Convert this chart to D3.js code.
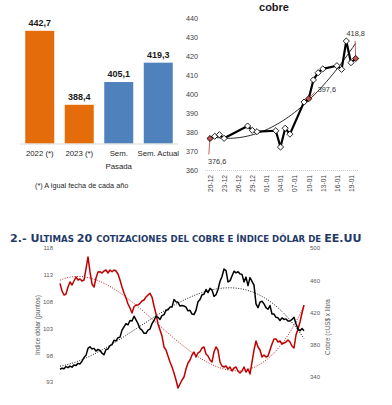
<!DOCTYPE html>
<html>
<head>
<meta charset="utf-8">
<script src="https://cdn.jsdelivr.net/npm/d3@7"></script>
<style>
  body { margin: 0; background: #fff; }
  svg { display: block; font-family: "Liberation Sans", Arial, sans-serif; }
</style>
</head>
<body>
<svg id="chart" width="392" height="405"></svg>
<script>
// bar chart: promedios
const barCats = ['2022 (*)', '2023 (*)', 'Sem.|Pasada', 'Sem. Actual'];
const barValues = [442.7, 388.4, 405.1, 419.3];
const barColors = ['#E46C0A', '#E46C0A', '#4F81BD', '#4F81BD'];
const barNote = '(*) A igual fecha de cada año';

// daily copper, last quotes
const dayDates = ['2022-12-20', '2022-12-21', '2022-12-22', '2022-12-23', '2022-12-28', '2022-12-29', '2022-12-30',
  '2023-01-03', '2023-01-04', '2023-01-05', '2023-01-06', '2023-01-09', '2023-01-10', '2023-01-11',
  '2023-01-12', '2023-01-13', '2023-01-16', '2023-01-17', '2023-01-18', '2023-01-19', '2023-01-20'];
const dayValues = [376.6, 377.8, 378.6, 376.7, 383.2, 380.9, 380.2, 380.7, 372.1, 382.0, 378.9,
  395.8, 397.6, 407.5, 411.3, 413.3, 415.0, 413.1, 428.0, 416.6, 418.8];
const dayLabels = ['376,6', '397,6', '418,8'];
const dayLabelIdx = [0, 12, 20];
const dayTicks = ['2022-12-20', '2022-12-23', '2022-12-26', '2022-12-29', '2023-01-01', '2023-01-04',
  '2023-01-07', '2023-01-10', '2023-01-13', '2023-01-16', '2023-01-19'];
const dayYTicks = [360, 370, 380, 390, 400, 410, 420, 430, 440];

// long series
const dollarIndex = [
  95.0, 95.2, 95.1, 95.5, 95.3, 95.6, 95.4, 95.8, 95.7, 96.1,
  96.0, 96.5, 97.2, 97.6, 98.9, 99.2, 98.8, 98.9, 98.4, 98.7,
  98.5, 98.0, 97.7, 98.7, 98.8, 99.4, 99.6, 100.4, 100.3, 100.9,
  101.0, 102.3, 102.9, 103.5, 103.3, 104.1, 104.0, 104.9, 104.2, 103.5,
  102.6, 102.3, 101.7, 101.7, 102.3, 102.5, 103.5, 104.1, 104.9, 104.7,
  104.3, 105.0, 105.2, 106.0, 106.1, 106.6, 106.6, 108.0, 107.6, 107.5,
  106.8, 106.9, 106.8, 106.6, 105.9, 106.0, 105.3, 105.2, 106.0, 107.6,
  108.0, 108.9, 109.0, 109.9, 109.3, 110.1, 109.8, 108.6, 108.9, 109.9,
  111.4, 112.3, 113.7, 113.4, 111.3, 111.5, 112.4, 113.3, 113.0, 113.2,
  112.8, 112.7, 111.3, 112.2, 110.6, 112.1, 111.4, 110.7, 107.2, 106.5,
  107.5, 107.7, 107.2, 106.5, 106.2, 106.9, 105.3, 105.3, 104.7, 104.6,
  104.1, 104.6, 104.3, 104.4, 104.0, 104.0, 104.3, 104.7, 103.5, 102.5,
  102.2, 102.6, 102.2
];
const copperLong = [
  453.7, 444.2, 439.2, 440.5, 449.1, 455.3, 451.6, 456.6, 461.6, 457.8,
  459.1, 456.6, 457.8, 471.5, 486.4, 467.8, 452.9, 449.1, 460.3, 467.8,
  468.1, 466.5, 469.0, 470.2, 466.5, 470.2, 468.1, 470.2, 469.0, 465.3,
  457.8, 449.1, 441.7, 435.5, 428.1, 423.1, 416.9, 424.7, 426.8, 426.8,
  428.9, 431.8, 433.0, 436.7, 439.2, 441.3, 436.7, 425.6, 415.7, 403.3,
  395.8, 388.4, 374.7, 371.0, 363.6, 356.1, 349.9, 342.5, 333.8, 323.9,
  328.8, 333.8, 337.5, 347.4, 354.9, 358.6, 364.8, 368.5, 362.3, 367.3,
  368.9, 373.5, 374.7, 366.0, 363.6, 358.6, 356.1, 368.5, 374.7, 371.0,
  356.1, 351.2, 349.9, 351.2, 347.4, 349.9, 345.0, 348.7, 349.9, 345.0,
  342.5, 345.0, 349.9, 343.7, 347.4, 341.2, 356.1, 371.0, 382.2, 374.7,
  371.0, 362.3, 364.8, 362.3, 363.6, 371.0, 378.5, 384.7, 384.7, 380.9,
  382.2, 378.5, 379.7, 380.9, 383.4, 380.9, 376.0, 373.5, 389.6, 397.1,
  405.7, 416.9, 426.8
];
const dollarTicks = [93, 98, 103, 108, 113, 118];
const copperTicks = [340, 380, 420, 460, 500];

const svg = d3.select('#chart');

// least squares polynomial, used for the trend lines
const polyfit = (xs, ys, deg) => {
  const n = deg + 1;
  const A = Array.from({ length: n }, () => new Array(n + 1).fill(0));
  xs.forEach((x, k) => {
    for (let i = 0; i < n; i++) {
      for (let j = 0; j < n; j++) A[i][j] += Math.pow(x, i + j);
      A[i][n] += Math.pow(x, i) * ys[k];
    }
  });
  for (let i = 0; i < n; i++) {
    let p = i;
    for (let r = i + 1; r < n; r++) if (Math.abs(A[r][i]) > Math.abs(A[p][i])) p = r;
    [A[i], A[p]] = [A[p], A[i]];
    for (let r = 0; r < n; r++) {
      if (r === i) continue;
      const f = A[r][i] / A[i][i];
      for (let c = i; c <= n; c++) A[r][c] -= f * A[i][c];
    }
  }
  const coef = A.map((row, i) => row[n] / row[i]);
  return x => coef.reduce((s, c, i) => s + c * Math.pow(x, i), 0);
};

// ---------- bars
const xBar = d3.scaleBand().domain(barCats).range([20, 178]).paddingInner(0.266).paddingOuter(0.133);
const yBar = d3.scaleLinear().domain([360, 450]).range([143.5, 20.85]);

svg.append('g')
  .selectAll('rect')
  .data(barValues)
  .join('rect')
  .attr('x', (d, i) => xBar(barCats[i]))
  .attr('width', xBar.bandwidth())
  .attr('y', d => yBar(d))
  .attr('height', d => yBar(360) - yBar(d))
  .attr('fill', (d, i) => barColors[i]);

svg.append('line')
  .attr('x1', 20).attr('x2', 178)
  .attr('y1', yBar(360) + 0.5).attr('y2', yBar(360) + 0.5)
  .attr('stroke', '#d9d9d9');

svg.append('g')
  .attr('font-size', 9).attr('font-weight', 'bold').attr('text-anchor', 'middle').attr('fill', '#1a1a1a')
  .selectAll('text')
  .data(barValues)
  .join('text')
  .attr('x', (d, i) => xBar(barCats[i]) + xBar.bandwidth() / 2)
  .attr('y', d => yBar(d) - 5)
  .text(d => d3.format('.1f')(d).replace('.', ','));

const catText = svg.append('g')
  .attr('font-size', 7.8).attr('text-anchor', 'middle').attr('fill', '#262626')
  .selectAll('text')
  .data(barCats)
  .join('text')
  .attr('x', d => xBar(d) + xBar.bandwidth() / 2)
  .attr('y', 156);
catText.selectAll('tspan')
  .data(d => d.split('|'))
  .join('tspan')
  .attr('x', function () { return d3.select(this.parentNode).attr('x'); })
  .attr('dy', (d, i) => i ? 13 : 0)
  .text(d => d);

svg.append('text')
  .attr('x', 35).attr('y', 188)
  .attr('font-size', 7.3).attr('fill', '#262626')
  .text(barNote);

// ---------- daily copper
const parse = d3.timeParse('%Y-%m-%d');
const days = dayDates.map(parse);
const xDay = d3.scaleTime().domain([parse('2022-12-20'), parse('2023-01-19')]).range([210, 351]);
const yDay = d3.scaleLinear().domain([360, 440]).range([170, 18.3]);

svg.append('text')
  .attr('x', 274).attr('y', 11)
  .attr('text-anchor', 'middle').attr('font-size', 11).attr('font-weight', 'bold').attr('fill', '#1a1a1a')
  .text('cobre');

svg.append('g')
  .attr('transform', 'translate(199,0)')
  .call(d3.axisLeft(yDay).tickValues(dayYTicks).tickSize(0).tickPadding(1))
  .call(g => g.select('.domain').remove())
  .call(g => g.selectAll('text').attr('font-size', 7.2).attr('fill', '#404040').attr('font-family', null));

svg.append('line')
  .attr('x1', 205).attr('x2', 358)
  .attr('y1', 170.5).attr('y2', 170.5)
  .attr('stroke', '#d0d0d0').attr('stroke-dasharray', '1,1');

svg.append('g')
  .attr('transform', 'translate(0,170)')
  .call(d3.axisBottom(xDay).tickValues(dayTicks.map(parse)).tickFormat(d3.timeFormat('%d-%m')).tickSize(0))
  .call(g => g.select('.domain').remove())
  .call(g => g.selectAll('text')
    .attr('transform', 'rotate(-90)')
    .attr('text-anchor', 'end')
    .attr('x', -5).attr('y', 0).attr('dy', '0.35em')
    .attr('font-size', 6.6).attr('fill', '#404040').attr('font-family', null));

// trend
const d0 = days[0];
const dx = days.map(d => (d - d0) / 864e5 / 31);
const dayTrend = polyfit(dx, dayValues, 2);
const trendPts = d3.range(0, 1.0001, 0.02).map(t => [t, dayTrend(t)]);
svg.append('path')
  .attr('fill', 'none').attr('stroke', '#111').attr('stroke-width', 0.9)
  .attr('d', d3.line()
    .x(d => xDay(new Date(+d0 + d[0] * 31 * 864e5)))
    .y(d => yDay(d[1]))(trendPts));

svg.append('path')
  .attr('fill', 'none').attr('stroke', '#000').attr('stroke-width', 2.2).attr('stroke-linejoin', 'round')
  .attr('d', d3.line()
    .x((d, i) => xDay(days[i]))
    .y(d => yDay(d))(dayValues));

// leaders for the labelled points
const leaders = [[-2, 20], [10, -8], [-1, -22]];
svg.append('g')
  .attr('stroke', '#C0504D').attr('stroke-width', 0.9)
  .selectAll('line')
  .data(dayLabelIdx)
  .join('line')
  .attr('x1', d => xDay(days[d]))
  .attr('y1', d => yDay(dayValues[d]))
  .attr('x2', (d, i) => xDay(days[d]) + leaders[i][0] * 0.6)
  .attr('y2', (d, i) => yDay(dayValues[d]) + leaders[i][1] * 0.8);

svg.append('g')
  .selectAll('path')
  .data(dayValues)
  .join('path')
  .attr('transform', (d, i) => `translate(${xDay(days[i])},${yDay(d)}) rotate(45)`)
  .attr('d', d3.symbol(d3.symbolSquare, 19))
  .attr('fill', (d, i) => dayLabelIdx.includes(i) ? '#C0504D' : '#fff')
  .attr('stroke', '#000').attr('stroke-width', 0.8);

const labelPos = [[-2, 25], [9, -7], [0, -23]];
svg.append('g')
  .attr('font-size', 7.3).attr('fill', '#333')
  .selectAll('text')
  .data(dayLabelIdx)
  .join('text')
  .attr('x', (d, i) => xDay(days[d]) + labelPos[i][0])
  .attr('y', (d, i) => yDay(dayValues[d]) + labelPos[i][1])
  .attr('text-anchor', (d, i) => i === 2 ? 'middle' : 'start')
  .text((d, i) => dayLabels[i]);

// ---------- heading
const heading = [
  ['2.- U', 10.6], ['LTIMAS ', 8.2], ['20 ', 10.6], ['COTIZACIONES DEL COBRE E ÍNDICE DÓLAR DE ', 8.2], ['EE.UU', 10.6]
];
const head = svg.append('text')
  .attr('font-family', '"DejaVu Sans", Verdana, sans-serif')
  .attr('font-weight', 'bold').attr('fill', '#1F3A68');
head.selectAll('tspan')
  .data(heading)
  .join('tspan')
  .attr('font-size', d => d[1])
  .text(d => d[0]);
const hw = head.node().getBBox().width;
head.attr('transform', `translate(10,242) scale(${352 / hw},1)`);

// ---------- long series
const xLong = d3.scaleLinear().domain([0, dollarIndex.length - 1]).range([60, 304]);
const yDol = d3.scaleLinear().domain([93, 118]).range([380, 246]);
const yCu = d3.scaleLinear().domain([340, 500]).range([375, 246]);

svg.append('g')
  .attr('transform', 'translate(55,2)')
  .call(d3.axisLeft(yDol).tickValues(dollarTicks).tickSize(0).tickPadding(2))
  .call(g => g.select('.domain').remove())
  .call(g => g.selectAll('text').attr('font-size', 6).attr('fill', '#595959').attr('font-family', null));

svg.append('g')
  .attr('transform', 'translate(308,2)')
  .call(d3.axisRight(yCu).tickValues(copperTicks).tickSize(0).tickPadding(2))
  .call(g => g.select('.domain').remove())
  .call(g => g.selectAll('text').attr('font-size', 6).attr('fill', '#595959').attr('font-family', null));

svg.append('text')
  .attr('transform', 'translate(40,325) rotate(-90)')
  .attr('text-anchor', 'middle').attr('font-size', 6.6).attr('fill', '#595959')
  .text('Indice dólar (puntos)');

svg.append('text')
  .attr('transform', 'translate(330,327) rotate(-90)')
  .attr('text-anchor', 'middle').attr('font-size', 6.4).attr('fill', '#595959')
  .text('Cobre (cUS$ x libra');

const lx = dollarIndex.map((d, i) => i / (dollarIndex.length - 1));
const dolTrend = polyfit(lx, dollarIndex, 3);
const cuTrend = polyfit(lx, copperLong, 3);
const tt = d3.range(0, 1.0001, 0.01);

svg.append('path')
  .attr('fill', 'none').attr('stroke', '#C00000').attr('stroke-width', 0.9).attr('stroke-dasharray', '1,1.5')
  .attr('d', d3.line().x(t => xLong(t * (dollarIndex.length - 1))).y(t => yCu(cuTrend(t)))(tt));

svg.append('path')
  .attr('fill', 'none').attr('stroke', '#000').attr('stroke-width', 0.9).attr('stroke-dasharray', '1,1.5')
  .attr('d', d3.line().x(t => xLong(t * (dollarIndex.length - 1))).y(t => yDol(dolTrend(t)))(tt));

svg.append('path')
  .attr('fill', 'none').attr('stroke', '#C00000').attr('stroke-width', 1.5).attr('stroke-linejoin', 'round')
  .attr('d', d3.line().x((d, i) => xLong(i)).y(d => yCu(d))(copperLong));

svg.append('path')
  .attr('fill', 'none').attr('stroke', '#000').attr('stroke-width', 1.5).attr('stroke-linejoin', 'round')
  .attr('d', d3.line().x((d, i) => xLong(i)).y(d => yDol(d))(dollarIndex));
</script>
</body>
</html>
